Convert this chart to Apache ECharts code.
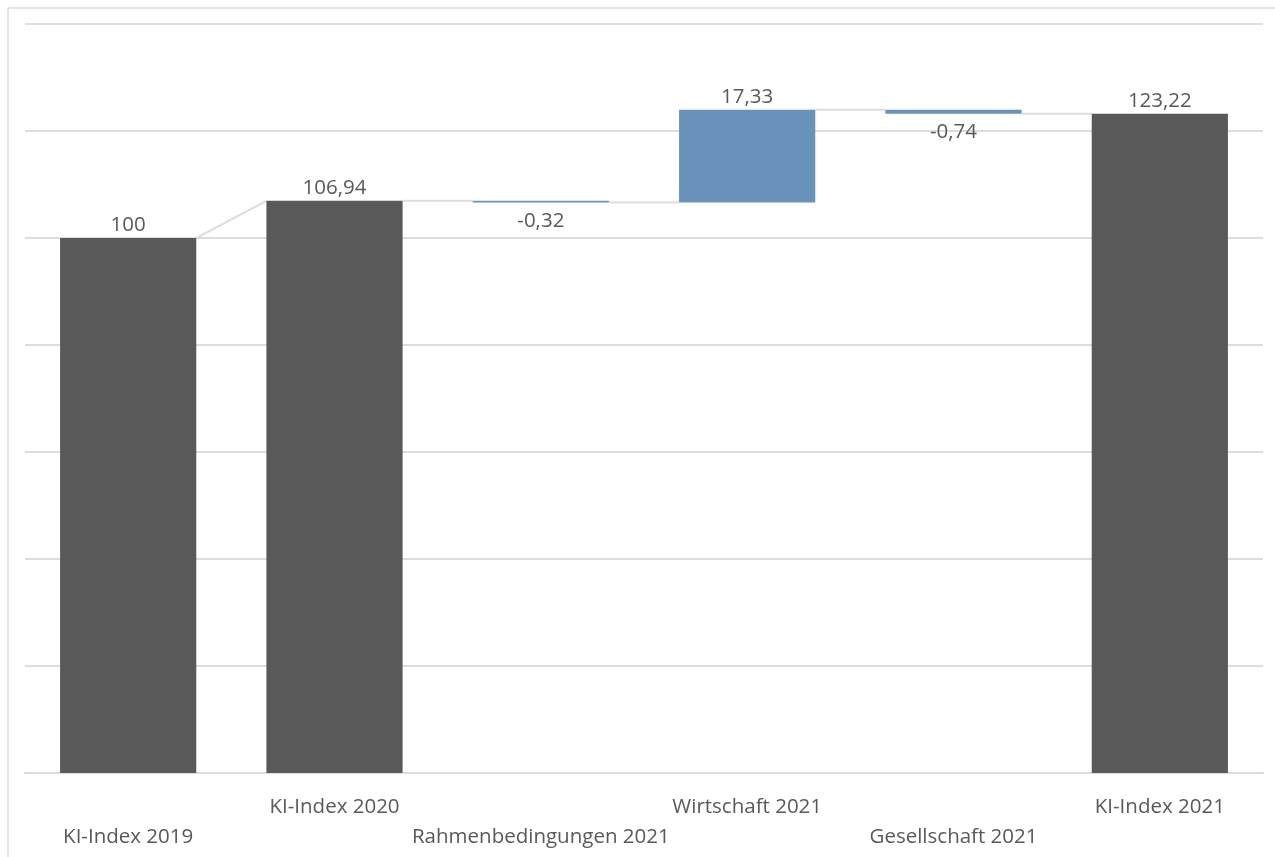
<!DOCTYPE html>
<html>
<head>
<meta charset="utf-8">
<script src="https://cdn.jsdelivr.net/npm/echarts@6/dist/echarts.min.js"></script>
<style>
html,body{margin:0;padding:0;background:#fff;}
#c{width:1275px;height:857px;}
</style>
</head>
<body>
<div id="c"></div>
<script>
const categories = ['KI-Index 2019','KI-Index 2020','Rahmenbedingungen 2021','Wirtschaft 2021','Gesellschaft 2021','KI-Index 2021'];
const values = [100, 106.94, -0.32, 17.33, -0.74, 123.22];
const isTotal = [true, true, false, false, false, true];
const yTicks = [0, 20, 40, 60, 80, 100, 120, 140];

const DARK = '#595959', BLUE = '#6892BA', GRID = '#DDDDDD';

// build waterfall structure from values
const base = [], height = [], startTop = [], endTop = [];
let level = 0;
values.forEach((v, i) => {
  if (isTotal[i]) {
    base.push(0); height.push(v);
    startTop.push(v); endTop.push(v); level = v;
  } else {
    const s = level, e = level + v;
    base.push(Math.min(s, e)); height.push(Math.abs(v));
    startTop.push(s); endTop.push(e); level = e;
  }
});
const connectors = [];
for (let i = 0; i < values.length - 1; i++) connectors.push([i, endTop[i], startTop[i + 1]]);

const fmt = v => String(v).replace('.', ',');
const BW = 0.66;

const chart = echarts.init(document.getElementById('c'));
chart.setOption({
  animation: false,
  textStyle: { fontFamily: 'Open Sans' },
  grid: { left: 25, right: 12, top: 24, bottom: 84 },
  graphic: [
    { type: 'line', shape: { x1: 8, y1: 8, x2: 1275, y2: 8 }, style: { stroke: '#DCDCDC', lineWidth: 1.5 } },
    { type: 'line', shape: { x1: 8, y1: 8, x2: 8, y2: 857 }, style: { stroke: '#DCDCDC', lineWidth: 1.5 } }
  ],
  xAxis: {
    type: 'category',
    data: categories,
    axisLine: { lineStyle: { color: GRID, width: 2 } },
    axisTick: { show: false },
    axisLabel: {
      interval: 0,
      margin: 19,
      color: DARK,
      fontSize: 20.5,
      fontFamily: 'Open Sans',
      lineHeight: 30,
      formatter: (v, i) => (i % 2 === 0 ? '\n' + v : v)
    }
  },
  yAxis: {
    type: 'value',
    min: yTicks[0],
    max: yTicks[yTicks.length - 1],
    interval: yTicks[1] - yTicks[0],
    axisLabel: { show: false },
    axisLine: { show: false },
    axisTick: { show: false },
    splitLine: { lineStyle: { color: GRID, width: 2 } }
  },
  series: [
    {
      type: 'custom',
      z: 1,
      data: connectors,
      encode: { x: 0, y: 1 },
      renderItem: (params, api) => {
        const i = api.value(0);
        const p1 = api.coord([i, api.value(1)]);
        const p2 = api.coord([i + 1, api.value(2)]);
        const w = api.size([1, 0])[0] * BW;
        return {
          type: 'line',
          shape: { x1: p1[0] + w / 2, y1: p1[1], x2: p2[0] - w / 2, y2: p2[1] },
          style: { stroke: GRID, lineWidth: 2 }
        };
      }
    },
    {
      type: 'bar',
      stack: 'w',
      barWidth: (BW * 100) + '%',
      itemStyle: { color: 'transparent' },
      emphasis: { disabled: true },
      data: base
    },
    {
      type: 'bar',
      stack: 'w',
      barWidth: (BW * 100) + '%',
      z: 3,
      data: height.map((h, i) => ({
        value: h,
        itemStyle: { color: isTotal[i] ? DARK : BLUE },
        label: {
          show: true,
          position: values[i] < 0 ? 'bottom' : 'top',
          distance: values[i] < 0 ? 8 : 2,
          color: DARK,
          fontSize: 20.5,
          fontFamily: 'Open Sans',
          formatter: () => fmt(values[i])
        }
      }))
    }
  ]
});
</script>
</body>
</html>
